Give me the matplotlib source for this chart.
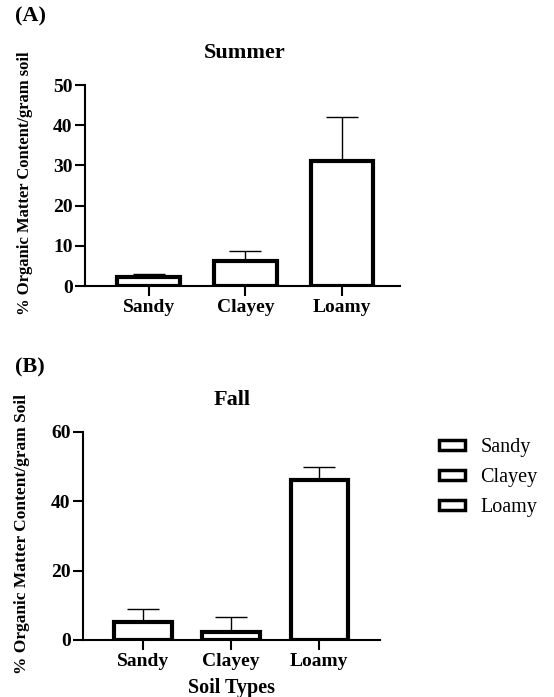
import matplotlib
matplotlib.use("Agg")
import matplotlib.pyplot as plt
from matplotlib.patches import Patch

plt.rcParams['font.family'] = ['Liberation Serif', 'DejaVu Serif']
plt.rcParams['font.weight'] = 'bold'

soil_types = ["Sandy", "Clayey", "Loamy"]

summer_mean = [2.2, 6.2, 31.2]
summer_err = [0.9, 2.6, 10.8]
summer_ticks = [0, 10, 20, 30, 40, 50]

fall_mean = [5.1, 2.4, 46.1]
fall_err = [3.7, 4.1, 3.9]
fall_ticks = [0, 20, 40, 60]

W, H = 554, 697
fig = plt.figure(figsize=(W / 100, H / 100), dpi=100)


def px_axes(left, top, right, bottom):
    return fig.add_axes([left / W, 1 - bottom / H, (right - left) / W, (bottom - top) / H])


def draw_panel(ax, means, errs, ticks, xlim):
    x = list(range(len(soil_types)))
    ax.bar(x, means, width=0.65, facecolor='white', edgecolor='black',
           linewidth=3, zorder=2)
    ax.errorbar(x, means, yerr=[[0] * len(errs), errs], fmt='none',
                ecolor='black', elinewidth=1.0, capsize=11.5, capthick=1.0,
                zorder=1)
    ax.set_xlim(*xlim)
    ax.set_ylim(ticks[0], ticks[-1])
    ax.set_yticks(ticks)
    ax.set_xticks(x)
    ax.set_xticklabels(soil_types)
    for s in ('top', 'right'):
        ax.spines[s].set_visible(False)
    for s in ('left', 'bottom'):
        ax.spines[s].set_linewidth(1.5)
    ax.tick_params(axis='both', direction='out', length=7, width=1.5,
                   labelsize=14)
    ax.tick_params(axis='x', pad=2)
    ax.tick_params(axis='y', pad=2)
    for lab in ax.get_xticklabels() + ax.get_yticklabels():
        lab.set_fontweight('bold')


def fig_text(xp, yp, s, size, **kw):
    fig.text(xp / W, 1 - yp / H, s, fontsize=size, fontweight='bold',
             va='center', **kw)


# Panel A: summer
ax1 = px_axes(85, 85, 400, 286)
draw_panel(ax1, summer_mean, summer_err, summer_ticks, (-0.66, 2.6))
ax1.set_ylabel("% Organic Matter Content/gram soil", fontsize=12,
               fontweight='bold')
ax1.yaxis.set_label_coords((33 - 85) / 315, 0.51)
fig_text(245, 53, "Summer", 16, ha='center')
fig_text(15, 16, "(A)", 16, ha='left')

# Panel B: fall
ax2 = px_axes(83, 432, 380, 640)
draw_panel(ax2, fall_mean, fall_err, fall_ticks, (-0.68, 2.69))
ax2.set_ylabel("% Organic Matter Content/gram Soil", fontsize=12.5,
               fontweight='bold')
ax2.yaxis.set_label_coords((30 - 83) / 297, (640 - 534) / 208)
fig_text(232, 400, "Fall", 16, ha='center')
fig_text(232, 688, "Soil Types", 14.5, ha='center')
fig_text(15, 367, "(B)", 16, ha='left')

handles = [Patch(facecolor='white', edgecolor='black', linewidth=2.5, label=s)
           for s in soil_types]
fig.legend(handles=handles, loc='upper left',
           bbox_to_anchor=(421 / W, 1 - 420 / H), frameon=False,
           prop={'family': 'Liberation Serif', 'weight': 'normal', 'size': 14.5},
           handlelength=1.3, handleheight=0.4, labelspacing=0.55,
           handletextpad=0.75)

fig.savefig("out.png", dpi=100)
